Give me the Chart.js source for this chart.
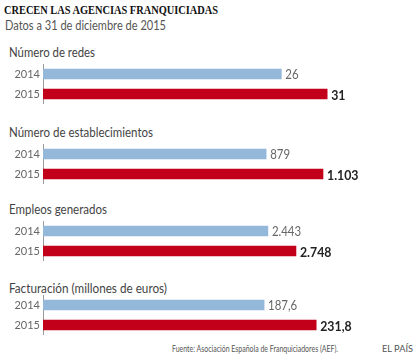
<!DOCTYPE html>
<html><head><meta charset="utf-8">
<script src="https://cdn.jsdelivr.net/npm/chart.js@4"></script>
<style>
body{margin:0;width:414px;height:356px;background:#fff;position:relative;overflow:hidden;font-family:Lato,sans-serif}
.t{position:absolute;white-space:nowrap;transform-origin:0 0;line-height:1}
.lbl{font-size:13px;color:#444;left:9px}
.c{position:absolute;left:0}
</style></head><body>
<div class="t" data-w="214" style="left:4px;top:2px;font:bold 13px 'Liberation Serif',serif;color:#111">CRECEN LAS AGENCIAS FRANQUICIADAS</div>
<div class="t" data-w="161" style="left:5px;top:19px;font-size:13px;color:#555">Datos a 31 de diciembre de 2015</div>
<div id="panels"></div>
<div class="t" data-w="166" style="left:172px;top:344px;font-size:9px;color:#555">Fuente: Asociación Española de Franquiciadores (AEF).</div>
<div class="t" data-w="31" style="left:382px;top:344px;font-size:9px;color:#555">EL PAÍS</div>
<script>
const categories = ['Número de redes','Número de establecimientos','Empleos generados','Facturación (millones de euros)'];
const years = ['2014','2015'];
const values2014 = [26, 879, 2443, 187.6];
const values2015 = [31, 1103, 2748, 231.8];
const axisMax = [36, 1300, 3585, 280];

const labelTops = [46, 126, 203, 282];
const labelWidths = [86, 144, 98, 158];
const chartTops = [62, 142, 219, 293];
const FONT = "Lato, sans-serif";

function fmt(v){
  const parts = String(v).split('.');
  const ii = parts[0].replace(/\B(?=(\d{3})+(?!\d))/g,'.');
  return parts[1] ? ii + ',' + parts[1] : ii;
}

const valueLabels = {
  id:'valueLabels',
  afterDatasetsDraw(chart){
    const ctx = chart.ctx;
    const meta = chart.getDatasetMeta(0);
    const ds = chart.data.datasets[0];
    meta.data.forEach((bar,i)=>{
      ctx.save();
      ctx.textBaseline='middle';
      ctx.textAlign='left';
      if(i===0){ctx.font='13px '+FONT;ctx.fillStyle='#666';}
      else {ctx.font='bold 14px '+FONT;ctx.fillStyle='#222';}
      ctx.translate(bar.x+4, bar.y+1);
      ctx.scale(0.88,1);
      ctx.fillText(fmt(ds.data[i]), 0, 0);
      ctx.restore();
    });
  }
};

const panels = document.getElementById('panels');
categories.forEach((cat,k)=>{
  const l = document.createElement('div');
  l.className='t lbl'; l.textContent=cat; l.style.top=labelTops[k]+'px'; l.dataset.w=labelWidths[k];
  panels.appendChild(l);
  const cv = document.createElement('canvas');
  cv.className='c'; cv.width=414; cv.height=42; cv.style.top=chartTops[k]+'px';
  panels.appendChild(cv);
  new Chart(cv,{
    type:'bar',
    data:{labels:years,datasets:[{data:[values2014[k],values2015[k]],backgroundColor:['#94b8d9','#c20019'],barThickness:10,borderWidth:0}]},
    options:{
      indexAxis:'y',
      responsive:false,animation:false,devicePixelRatio:1,
      layout:{autoPadding:false,padding:{left:0,right:41,top:2,bottom:0}},
      plugins:{legend:{display:false},tooltip:{enabled:false}},
      scales:{
        x:{display:false,min:0,max:axisMax[k]},
        y:{grid:{display:false,drawTicks:false},border:{display:true,color:'#9a9a9a',width:1},
           ticks:{font:{family:FONT,size:11},color:'#666',padding:3},
           afterFit(s){s.width=43;s.paddingTop=0;s.paddingBottom=0;}}
      }
    },
    plugins:[valueLabels]
  });
});

function fit(){
  document.querySelectorAll('.t[data-w]').forEach(el=>{
    el.style.transform='none';
    const w = el.getBoundingClientRect().width;
    el.style.transform='scaleX('+(parseFloat(el.dataset.w)/w)+')';
  });
}
fit();
if(document.fonts) document.fonts.ready.then(fit);
</script>
</body></html>
